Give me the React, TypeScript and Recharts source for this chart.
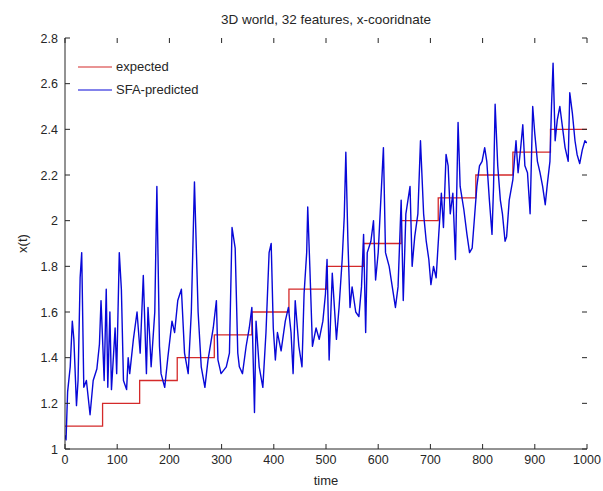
import { LineChart, Line, XAxis, YAxis } from "recharts";

// red step: expected x-coordinate (start time of each step, value)
const expectedTimes = [0, 72, 143, 215, 286, 358, 429, 501, 572, 644, 715, 787, 858, 930, 1000];
const expectedValues = [1.1, 1.2, 1.3, 1.4, 1.5, 1.6, 1.7, 1.8, 1.9, 2.0, 2.1, 2.2, 2.3, 2.4, 2.4];

// blue: SFA prediction
const predictedTimes = [
  0, 2, 5, 10, 14, 17, 22, 25, 29, 32, 36, 41, 48, 54, 61, 66, 69, 72, 75, 79,
  82, 86, 89, 96, 99, 104, 108, 112, 118, 121, 124, 131, 138, 144, 150, 156, 159, 162, 165, 172,
  176, 181, 184, 191, 197, 205, 210, 216, 223, 229, 236, 242, 248, 255, 261, 268, 274, 284, 290, 293,
  299, 309, 315, 320, 326, 331, 334, 340, 347, 353, 358, 363, 366, 372, 379, 385, 391, 395, 399, 403,
  407, 414, 422, 428, 433, 437, 441, 448, 454, 458, 463, 465, 469, 474, 481, 487, 494, 499, 502, 506,
  512, 520, 525, 531, 535, 538, 542, 546, 550, 557, 563, 568, 572, 576, 579, 586, 591, 595, 600, 605,
  610, 614, 621, 627, 633, 638, 644, 648, 653, 657, 661, 665, 670, 676, 681, 687, 692, 697, 701, 706,
  711, 716, 721, 725, 730, 734, 738, 743, 748, 753, 757, 764, 770, 775, 780, 785, 789, 794, 799, 804,
  808, 813, 818, 821, 824, 829, 834, 838, 843, 846, 851, 858, 864, 868, 873, 877, 881, 886, 891, 896,
  900, 905, 910, 915, 920, 924, 929, 932, 935, 939, 943, 948, 953, 958, 964, 967, 972, 977, 981, 986,
  991, 996, 1000,
];
const predictedValues = [
  1.06, 1.04, 1.25, 1.36, 1.56, 1.48, 1.19, 1.3, 1.75, 1.86, 1.27, 1.3, 1.15, 1.3, 1.35, 1.46, 1.65, 1.48, 1.3, 1.7,
  1.27, 1.6, 1.26, 1.53, 1.33, 1.86, 1.7, 1.3, 1.26, 1.4, 1.33, 1.48, 1.6, 1.42, 1.76, 1.33, 1.62, 1.5, 1.36, 1.6,
  2.15, 1.45, 1.33, 1.27, 1.4, 1.56, 1.51, 1.65, 1.7, 1.42, 1.33, 1.6, 2.17, 1.6, 1.36, 1.27, 1.39, 1.53, 1.65, 1.39,
  1.33, 1.36, 1.42, 1.97, 1.88, 1.42, 1.36, 1.33, 1.45, 1.53, 1.62, 1.16, 1.56, 1.36, 1.27, 1.51, 1.86, 1.9, 1.53, 1.39,
  1.51, 1.43, 1.56, 1.62, 1.51, 1.33, 1.65, 1.45, 1.36, 1.68, 1.86, 2.06, 1.8, 1.45, 1.53, 1.48, 1.56, 1.68, 1.83, 1.39,
  1.77, 1.48, 1.62, 1.83, 2.02, 2.3, 1.91, 1.62, 1.71, 1.6, 1.58, 1.71, 1.94, 1.51, 1.86, 1.91, 2.0, 1.74, 1.86, 2.09,
  2.32, 1.86, 1.8, 1.71, 1.62, 1.71, 2.09, 1.65, 2.03, 2.09, 2.15, 1.8, 1.93, 2.03, 2.35, 2.03, 1.91, 1.83, 1.72, 1.8,
  1.75, 1.94, 2.12, 1.97, 2.29, 2.24, 2.03, 2.12, 1.83, 2.43, 2.15, 2.05, 1.94, 1.86, 1.88, 2.03, 2.15, 2.24, 2.26, 2.32,
  2.26, 2.09, 1.94, 2.15, 2.51, 2.24, 2.09, 2.03, 1.91, 1.93, 2.09, 2.18, 2.35, 2.21, 2.32, 2.42, 2.24, 2.21, 2.03, 2.5,
  2.38, 2.26, 2.21, 2.15, 2.07, 2.16, 2.26, 2.5, 2.69, 2.35, 2.44, 2.5, 2.41, 2.32, 2.26, 2.56, 2.47, 2.35, 2.29, 2.25,
  2.31, 2.35, 2.34,
];

const xTicks = [0, 100, 200, 300, 400, 500, 600, 700, 800, 900, 1000];
const yTicks = [1, 1.2, 1.4, 1.6, 1.8, 2, 2.2, 2.4, 2.6, 2.8];

const expected = expectedTimes.map((t, i) => ({ t, v: expectedValues[i] }));
const predicted = predictedTimes.map((t, i) => ({ t, v: predictedValues[i] }));

const W = 603;
const H = 491;
const PLOT_TOP = 38;
const PLOT_BOTTOM = 449;
const PLOT_LEFT = 65;
const PLOT_RIGHT = 587;
const FONT = "'Liberation Sans', Arial, sans-serif";
const INK = "#262626";
const RED = "#d42a2a";
const BLUE = "#0808d8";

const XTick = (props: any) => {
  const { x, y, payload } = props;
  return (
    <g>
      <line x1={x} x2={x} y1={PLOT_BOTTOM} y2={PLOT_BOTTOM - 5} stroke={INK} />
      <line x1={x} x2={x} y1={PLOT_TOP} y2={PLOT_TOP + 5} stroke={INK} />
      <text x={x} y={y} dy="0.71em" textAnchor="middle" fontSize={12.5} fontFamily={FONT} fill={INK}>
        {payload.value}
      </text>
    </g>
  );
};

const YTick = (props: any) => {
  const { x, y, payload } = props;
  return (
    <g>
      <line x1={PLOT_LEFT} x2={PLOT_LEFT + 5} y1={y} y2={y} stroke={INK} />
      <line x1={PLOT_RIGHT} x2={PLOT_RIGHT - 5} y1={y} y2={y} stroke={INK} />
      <text x={x} y={y} dy="0.36em" textAnchor="end" fontSize={12.5} fontFamily={FONT} fill={INK}>
        {String(Math.round(payload.value * 10) / 10)}
      </text>
    </g>
  );
};

const legendItems = [
  { name: "expected", color: RED },
  { name: "SFA-predicted", color: BLUE },
];

export default function App() {
  return (
    <div style={{ position: "absolute", left: 0, top: 0, width: W, height: H, background: "#fff" }}>
      <div
        style={{
          position: "absolute",
          left: PLOT_LEFT,
          width: PLOT_RIGHT - PLOT_LEFT,
          top: 12,
          textAlign: "center",
          fontFamily: FONT,
          fontSize: 13.5,
          color: INK,
        }}
      >
        3D world, 32 features, x-cooridnate
      </div>
      <LineChart width={W} height={H} margin={{ top: PLOT_TOP, right: W - PLOT_RIGHT, left: 0, bottom: 0 }}>
        <XAxis
          type="number"
          dataKey="t"
          domain={[0, 1000]}
          ticks={xTicks}
          height={H - PLOT_BOTTOM}
          tickSize={0}
          tickMargin={6}
          tickLine={false}
          axisLine={{ stroke: INK }}
          tick={XTick}
          allowDataOverflow
          label={{ value: "time", position: "insideBottom", offset: 6, fontSize: 13, fontFamily: FONT, fill: INK }}
        />
        <XAxis
          xAxisId="top"
          orientation="top"
          type="number"
          domain={[0, 1000]}
          height={0}
          tick={false}
          tickLine={false}
          axisLine={{ stroke: INK }}
        />
        <YAxis
          type="number"
          domain={[1, 2.8]}
          ticks={yTicks}
          width={PLOT_LEFT}
          tickSize={0}
          tickMargin={7}
          tickLine={false}
          axisLine={{ stroke: INK }}
          tick={YTick}
          allowDataOverflow
          label={{
            content: (p: any) => (
              <text
                x={p.viewBox.x + 22}
                y={p.viewBox.y + p.viewBox.height / 2}
                transform={`rotate(-90 ${p.viewBox.x + 22} ${p.viewBox.y + p.viewBox.height / 2})`}
                textAnchor="middle"
                dy="0.36em"
                fontSize={13}
                fontFamily={FONT}
                fill={INK}
              >
                x(t)
              </text>
            ),
          }}
        />
        <YAxis
          yAxisId="right"
          orientation="right"
          type="number"
          domain={[1, 2.8]}
          width={0}
          tick={false}
          tickLine={false}
          axisLine={{ stroke: INK }}
        />
        <Line
          data={expected}
          dataKey="v"
          type="stepAfter"
          stroke={RED}
          strokeWidth={1.3}
          dot={false}
          isAnimationActive={false}
        />
        <Line
          data={predicted}
          dataKey="v"
          type="linear"
          stroke={BLUE}
          strokeWidth={1.4}
          strokeLinejoin="round"
          dot={false}
          isAnimationActive={false}
        />
      </LineChart>
      <div
        style={{
          position: "absolute",
          left: 74,
          top: 55,
          fontFamily: FONT,
          fontSize: 13,
          color: INK,
          lineHeight: "23px",
        }}
      >
        {legendItems.map((item) => (
          <div key={item.name} style={{ display: "flex", alignItems: "center" }}>
            <svg width={42} height={10}>
              <line x1={4} x2={38} y1={5} y2={5} stroke={item.color} strokeWidth={1.2} />
            </svg>
            <span>{item.name}</span>
          </div>
        ))}
      </div>
    </div>
  );
}
